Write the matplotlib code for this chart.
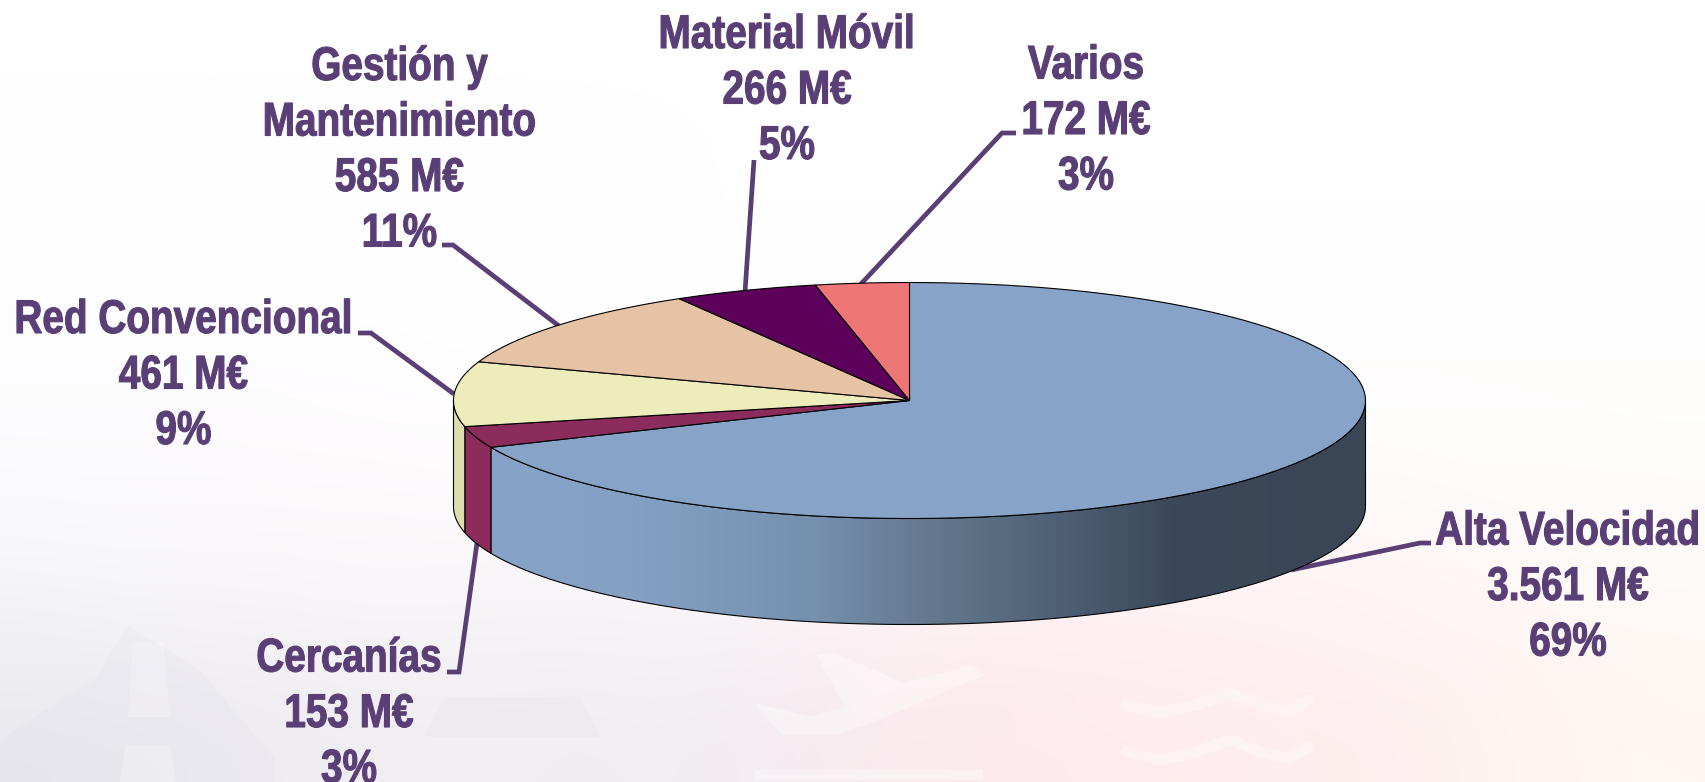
import numpy as np
import matplotlib
matplotlib.use('Agg')
import matplotlib.pyplot as plt
from matplotlib.colors import LinearSegmentedColormap
from matplotlib.patches import Polygon
from matplotlib.patheffects import AbstractPathEffect
from matplotlib.transforms import Affine2D

# Investment per line of business, M€, clockwise from 12 o'clock
names = ['Alta Velocidad', 'Cercanías', 'Red Convencional',
         'Gestión y\nMantenimiento', 'Material Móvil', 'Varios']
values = [3561, 153, 461, 585, 266, 172]
value_labels = ['3.561 M€', '153 M€', '461 M€', '585 M€', '266 M€', '172 M€']
pct_labels = ['69%', '3%', '9%', '11%', '5%', '3%']
top_colors = ['#87A4C8', '#8B2C5C', '#EDECBB', '#E6C3A5', '#5C005C', '#EF7676']
side_colors = ['#87A4C8', '#8B2C5C', '#DEDDAE', '#E6C3A5', '#5C005C', '#EF7676']

# label text centres and baseline of the first line
label_x = [1568, 349, 183.5, 399.5, 787, 1086]
label_y = [544.5, 671.5, 333, 80, 48, 78.5]
leaders = [
    [(1291, 570), (1420, 543), (1431, 543)],
    [(477, 543), (459, 672), (447, 672)],
    [(454, 394), (371, 333), (358, 333)],
    [(559, 326), (453, 245), (442, 245)],
    [(745, 292), (754, 160)],
    [(860, 285), (1002, 133), (1016, 133)],
]

CX, CY, RX, RY, DEPTH = 909.5, 400.5, 456, 118, 106
TEXT = '#593F75'
LINE_H = 55.5


class TallText(AbstractPathEffect):
    # the reference font is a narrow one, so stretch the glyphs upward
    def __init__(self, stretch, weight):
        self.stretch = stretch
        self.weight = weight

    def draw_path(self, renderer, gc, tpath, affine, rgbFace=None):
        gc0 = renderer.new_gc()
        gc0.copy_properties(gc)
        gc0.set_linewidth(self.weight)
        gc0.set_foreground(rgbFace)
        renderer.draw_path(gc0, tpath, Affine2D().scale(1, self.stretch) + affine, rgbFace)
        gc0.restore()


def rim(a0, a1, n=120):
    t = np.radians(np.linspace(a0, a1, n))
    return CX + RX * np.sin(t), CY - RY * np.cos(t)


def draw_background(ax):
    bg = np.array([
        [[255, 255, 255]] * 8,
        [[255, 255, 255]] * 8,
        [[254, 254, 255], [255, 254, 255], [255, 255, 255], [255, 255, 255],
         [255, 255, 255], [255, 255, 255], [255, 255, 255], [255, 255, 255]],
        [[252, 251, 253], [254, 251, 253], [254, 253, 254], [255, 253, 254],
         [255, 253, 253], [255, 252, 252], [255, 252, 252], [255, 254, 252]],
        [[246, 246, 249], [251, 246, 249], [249, 246, 249], [250, 246, 249],
         [254, 243, 245], [255, 243, 244], [255, 245, 245], [255, 250, 248]],
        [[232, 232, 238], [241, 238, 243], [240, 238, 243], [241, 236, 241],
         [253, 233, 236], [255, 236, 238], [253, 238, 238], [255, 248, 243]],
    ]) / 255
    ax.imshow(bg, extent=(0, 1706, 782, 0), interpolation='bicubic', aspect='auto', zorder=0)

    # faint pictograms: track, plane, waves
    light = [
        [(133, 643), (163, 643), (170, 717), (128, 717)],
        [(125, 745), (170, 745), (176, 782), (120, 782)],
        [(817, 655), (832, 652), (904, 683), (971, 665), (985, 675), (891, 715),
         (837, 735), (782, 735), (755, 703), (811, 717), (844, 707)],
        [(755, 770), (983, 770), (983, 780), (755, 780)],
    ]
    for g in light:
        ax.add_patch(Polygon(g, closed=True, fc='white', ec='none', alpha=0.35, zorder=1))
    shade = [
        [(0, 740), (97, 677), (127, 625), (200, 670), (275, 760), (275, 782), (0, 782)],
        [(445, 697), (580, 697), (600, 737), (424, 737)],
    ]
    for g in shade:
        ax.add_patch(Polygon(g, closed=True, fc='#DFDDE8', ec='none', alpha=0.2, zorder=1))
    for base in [703, 750]:
        ax.plot([1126, 1160, 1195, 1230, 1262, 1290, 1308],
                [base + 2, base + 10, base + 2, base - 10, base + 2, base + 9, base - 3],
                color='white', alpha=0.35, lw=8, solid_capstyle='round',
                solid_joinstyle='round', zorder=1)


def main():
    fig = plt.figure(figsize=(17.06, 7.82), dpi=100)
    ax = fig.add_axes([0, 0, 1, 1])
    draw_background(ax)

    for pts in leaders:
        xs, ys = zip(*pts)
        ax.plot(xs, ys, color=TEXT, lw=3.4, solid_capstyle='butt', solid_joinstyle='miter', zorder=2)

    edges = np.concatenate([[0], np.cumsum(values)]) / np.sum(values) * 360

    # side wall, only the front half of the ellipse shows
    for i in range(len(values)):
        a0, a1 = max(edges[i], 90), min(edges[i + 1], 270)
        if a0 >= a1:
            continue
        x, y = rim(a0, a1)
        verts = np.column_stack([np.r_[x, x[::-1]], np.r_[y, y[::-1] + DEPTH]])
        if i == 0:
            cmap = LinearSegmentedColormap.from_list('wall', [
                (0, '#87A4C8'), (0.16, '#84A1C4'), (0.37, '#7690AE'), (0.5, '#64798F'),
                (0.68, '#4A5B70'), (0.78, '#3B4859'), (1, '#3A4656')])
            im = ax.imshow(np.linspace(0, 1, 512)[None, :], extent=(490, 1366, 640, 380),
                           cmap=cmap, aspect='auto', zorder=3)
            patch = Polygon(verts, closed=True, fc='none', ec='none', transform=ax.transData)
            ax.add_patch(patch)
            im.set_clip_path(patch)
            ax.add_patch(Polygon(verts, closed=True, fc='none', ec='black', lw=0.8, zorder=4))
        else:
            ax.add_patch(Polygon(verts, closed=True, fc=side_colors[i], ec='black', lw=0.8, zorder=4))

    # top face
    for i in range(len(values)):
        x, y = rim(edges[i], edges[i + 1])
        verts = np.column_stack([np.r_[CX, x], np.r_[CY, y]])
        ax.add_patch(Polygon(verts, closed=True, fc=top_colors[i], ec='black', lw=0.8, zorder=5))

    for i, name in enumerate(names):
        lines = name.split('\n') + [value_labels[i], pct_labels[i]]
        for j, line in enumerate(lines):
            t = ax.text(label_x[i], label_y[i] + j * LINE_H, line, color=TEXT,
                        family='Liberation Sans', fontweight='bold', fontsize=27.9,
                        ha='center', va='baseline', zorder=6)
            t.set_path_effects([TallText(1.22, 0.8)])

    ax.set_xlim(0, 1706)
    ax.set_ylim(782, 0)
    ax.axis('off')
    fig.savefig('out.png', dpi=100)


if __name__ == '__main__':
    main()
